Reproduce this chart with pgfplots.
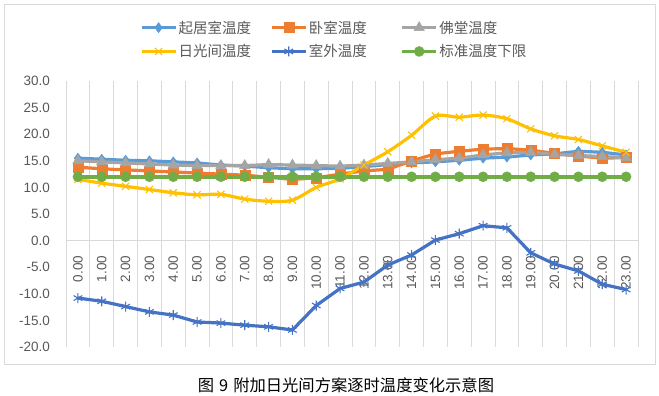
\documentclass[border=0pt]{standalone}
\usepackage{pgfplots}
\usepackage{pgfplotstable}
\pgfplotsset{compat=1.18}
\usepackage{fontspec}
\setmainfont{Liberation Sans}
\newfontfamily\cjk{Noto Sans CJK SC}
\usetikzlibrary{plotmarks}
\definecolor{cA}{HTML}{5B9BD5}
\definecolor{cB}{HTML}{ED7D31}
\definecolor{cC}{HTML}{A5A5A5}
\definecolor{cD}{HTML}{FFC000}
\definecolor{cE}{HTML}{4472C4}
\definecolor{cF}{HTML}{70AD47}
\definecolor{gridc}{HTML}{D9D9D9}
\definecolor{txt}{HTML}{595959}
\pgfplotstableread{
h A B C D E F
0 15.5 13.8 15.0 11.5 -10.8 12
1 15.3 13.5 14.8 10.8 -11.4 12
2 15.1 13.3 14.6 10.2 -12.4 12
3 15.0 13.1 14.4 9.6 -13.4 12
4 14.8 12.9 14.2 9.0 -14.0 12
5 14.6 12.7 14.1 8.6 -15.3 12
6 14.2 12.5 14.1 8.7 -15.5 12
7 14.0 12.3 14.1 7.8 -15.9 12
8 13.7 11.9 14.3 7.4 -16.2 12
9 13.5 11.5 14.2 7.6 -16.8 12
10 13.5 11.8 14.1 10.0 -12.2 12
11 13.6 12.5 14.0 11.6 -9.0 12
12 13.9 13.1 14.2 14.2 -7.8 12
13 14.3 13.4 14.5 16.7 -4.6 12
14 14.6 15.0 14.8 19.8 -2.7 12
15 14.8 16.3 15.2 23.4 0.1 12
16 15.1 16.8 15.5 23.2 1.3 12
17 15.5 17.2 16.1 23.6 2.8 12
18 15.7 17.3 16.5 22.9 2.4 12
19 16.1 17.0 16.6 21.0 -2.3 12
20 16.3 16.4 16.2 19.7 -4.4 12
21 16.8 15.9 16.0 19.0 -5.7 12
22 16.6 15.5 15.8 17.8 -8.2 12
23 16.1 15.6 15.6 16.6 -9.2 12
}\datatable
\begin{document}
\begin{tikzpicture}
\path[use as bounding box] (0,0) rectangle (659bp,-396bp);
\draw[color=gridc, line width=0.9bp] (4.5bp,-4.5bp) rectangle (655bp,-364bp);
\begin{axis}[
  at={(66bp,-347bp)}, anchor=south west,
  scale only axis, width=572bp, height=266bp,
  xmin=-0.5, xmax=23.5, ymin=-20, ymax=30,
  enlargelimits=false,
  axis x line=middle, axis y line=left,
  axis line style={-},
  x axis line style={color=gridc, line width=0.9bp},
  y axis line style={draw=none},
  xtick={0,...,23},
  xticklabels={0.00,1.00,2.00,3.00,4.00,5.00,6.00,7.00,8.00,9.00,10.00,11.00,12.00,13.00,14.00,15.00,16.00,17.00,18.00,19.00,20.00,21.00,22.00,23.00},
  minor xtick={-0.5,0.5,...,23.5},
  xminorgrids=true,
  minor grid style={color=gridc, line width=0.9bp},
  major tick length=0pt, minor tick length=0pt,
  ytick={-20,-15,...,30},
  yticklabels={-20.0,-15.0,-10.0,-5.0,0.0,5.0,10.0,15.0,20.0,25.0,30.0},
  tick label style={font=\fontsize{13.5bp}{16bp}\selectfont, text=txt},
  xticklabel style={rotate=90, anchor=east, inner sep=0pt},
  xticklabel shift=15bp,
  yticklabel style={anchor=east, inner sep=0pt},
  yticklabel shift=16bp,
  clip=false,
  legend columns=3,
  legend style={at={(0.129,1.233)}, anchor=north west, draw=none, fill=none,
    inner sep=0pt, row sep=7bp,
    font=\cjk\fontsize{14.5bp}{16bp}\selectfont, text=txt,
    nodes={inner sep=1.5bp}},
  legend cell align=left,
  legend image code/.code={\draw[mark repeat=2,mark phase=2,#1] plot coordinates {(0bp,0bp) (17bp,0bp) (34bp,0bp)};},
]
\addplot[color=cA, line width=3.2bp, mark=diamond*, mark size=5bp, mark options={solid, fill=cA, line width=0.5bp}] table[x=h, y=A] {\datatable};
\addlegendentry{\makebox[90bp][l]{起居室温度}}
\addplot[color=cB, line width=3.2bp, mark=square*, mark size=5bp, mark options={solid, fill=cB, line width=0.5bp}] table[x=h, y=B] {\datatable};
\addlegendentry{\makebox[90bp][l]{卧室温度}}
\addplot[color=cC, line width=3.2bp, mark=triangle*, mark size=6bp, mark options={solid, fill=cC, line width=0.5bp}] table[x=h, y=C] {\datatable};
\addlegendentry{\makebox[90bp][l]{佛堂温度}}
\addplot[color=cD, line width=3.2bp, smooth, mark=x, mark size=5bp, mark options={solid, line width=1.1bp}] table[x=h, y=D] {\datatable};
\addlegendentry{\makebox[90bp][l]{日光间温度}}
\addplot[color=cE, line width=3.2bp, mark=asterisk, mark size=5bp, mark options={solid, line width=1.1bp}] table[x=h, y=E] {\datatable};
\addlegendentry{\makebox[90bp][l]{室外温度}}
\addplot[color=cF, line width=3.6bp, mark=*, mark size=5bp, mark options={solid, fill=cF, line width=0.5bp}] table[x=h, y=F] {\datatable};
\addlegendentry{\makebox[90bp][l]{标准温度下限}}
\end{axis}
\node[font=\cjk\fontsize{16.3bp}{18bp}\selectfont, text=black] at (346bp,-385bp) {图\hspace{5bp}9\hspace{5bp}附加日光间方案逐时温度变化示意图};
\end{tikzpicture}
\end{document}
